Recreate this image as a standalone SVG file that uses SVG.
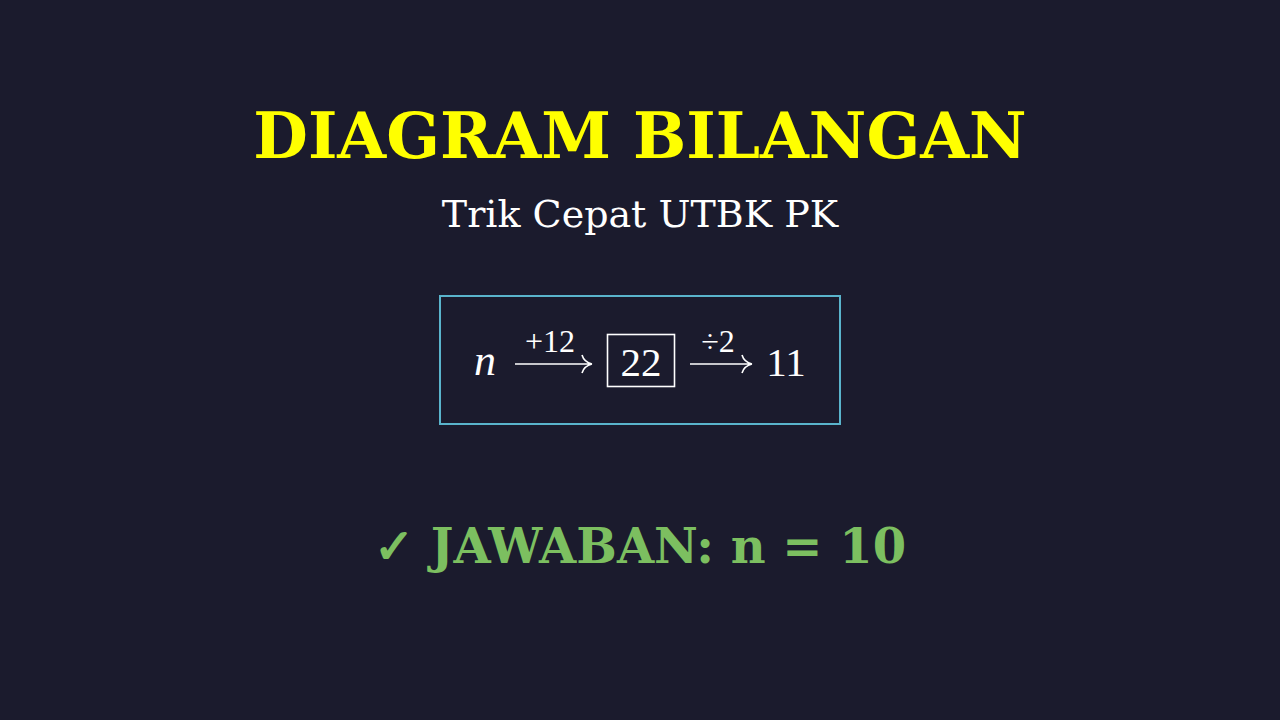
<svg xmlns="http://www.w3.org/2000/svg" width="1280" height="720" viewBox="0 0 1280 720">
<style>
.title{font-family:"DejaVu Serif",serif;font-weight:bold;font-size:63px;fill:#ffff00}
.sub{font-family:"DejaVu Serif",serif;font-size:38px;fill:#ffffff}
.ans{font-family:"DejaVu Serif",serif;font-weight:bold;font-size:48px;fill:#7cbf60}
.m{font-family:"Liberation Serif","DejaVu Serif",serif;fill:#ffffff}
.ln{fill:none;stroke:#ffffff;stroke-width:1.6}
</style>
<rect width="1280" height="720" fill="#1b1b2d"/>
<g id="title"><text class="title" x="640" y="158" text-anchor="middle">DIAGRAM BILANGAN</text></g>
<g id="subtitle"><text class="sub" x="640" y="227" text-anchor="middle">Trik Cepat UTBK PK</text></g>
<g id="formula">
<rect x="440" y="296" width="400" height="128" fill="none" stroke="#5ab4cc" stroke-width="2"/>
<text class="m" x="474" y="375" font-size="44" font-style="italic">n</text>
<text class="m" x="550" y="352" font-size="32" text-anchor="middle">+12</text>
<text class="m" x="718" y="352" font-size="32" text-anchor="middle">÷2</text>
<rect x="607.5" y="334.5" width="67" height="52" class="ln"/>
<text class="m" x="641" y="376" font-size="41" text-anchor="middle">22</text>
<text class="m" x="786" y="376" font-size="41" text-anchor="middle">11</text>
</g>
<g id="connectors">
<path class="ln" d="M515,364 H591 M592,364 q-8,-2 -10,-9 M592,364 q-8,2 -10,9"/>
<path class="ln" d="M690,364 H751 M752,364 q-8,-2 -10,-9 M752,364 q-8,2 -10,9"/>
</g>
<g id="answer"><text class="ans" x="640" y="563" text-anchor="middle">✓ JAWABAN: n = 10</text></g>
</svg>
